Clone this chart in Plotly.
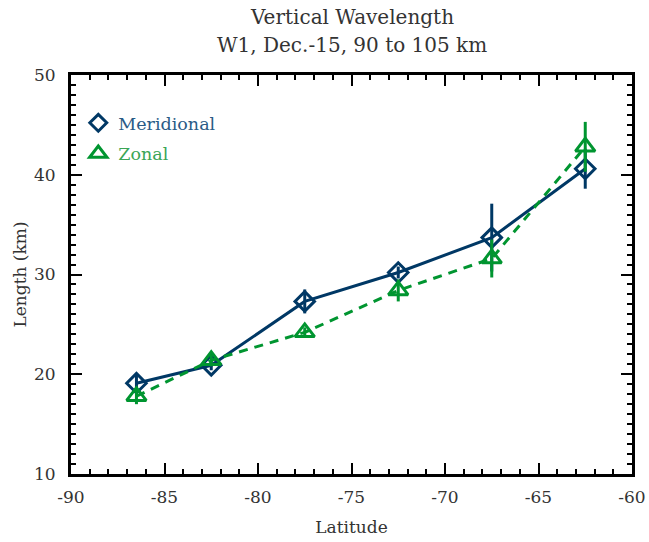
import plotly.graph_objects as go

lat = [-86.5, -82.5, -77.5, -72.5, -67.5, -62.5]
merid = [19.1, 20.9, 27.3, 30.2, 33.7, 40.6]
merid_err = [0.9, 0.5, 1.2, 0.6, 3.4, 2.0]
zonal = [17.8, 21.4, 24.2, 28.4, 31.6, 42.8]
zonal_err = [0.8, 0.6, 0.5, 1.1, 1.9, 2.5]

x_ticks = [-90, -85, -80, -75, -70, -65, -60]
x_ticktext = ["-90", "-85", "-80", "-75", "-70", "-65", "-60"]
y_ticks = [10, 20, 30, 40, 50]
y_ticktext = ["10", "20", "30", "40", "50"]

title_lines = ["Vertical Wavelength", "W1, Dec.-15, 90 to 105 km"]

NAVY = "#003865"
GREEN = "#009530"
FONT = "DejaVu Serif"
TXT = "#333333"

fig = go.Figure()
fig.add_trace(go.Scatter(
    x=lat, y=merid, mode="lines+markers", showlegend=False,
    line=dict(color=NAVY, width=3),
    marker=dict(symbol="diamond-open", size=15, color=NAVY, line=dict(width=3, color=NAVY)),
    error_y=dict(type="data", array=merid_err, color=NAVY, thickness=3, width=0),
))
fig.add_trace(go.Scatter(
    x=lat, y=zonal, mode="lines+markers", showlegend=False,
    line=dict(color=GREEN, width=3, dash="9px,7px"),
    marker=dict(symbol="triangle-up-open", size=17, color=GREEN, line=dict(width=3, color=GREEN)),
    error_y=dict(type="data", array=zonal_err, color=GREEN, thickness=3, width=0),
))
fig.add_trace(go.Scatter(
    x=[None], y=[None], mode="markers", legendgroup="m",
    name="<span style='color:#2a5b86'>Meridional</span>",
    marker=dict(symbol="diamond-open", size=13, color=NAVY, line=dict(width=3, color=NAVY)),
))
fig.add_trace(go.Scatter(
    x=[None], y=[None], mode="markers", legendgroup="z",
    name="<span style='color:#3aa556'>Zonal</span>",
    marker=dict(symbol="triangle-up-open", size=15, color=GREEN, line=dict(width=3, color=GREEN)),
))

axis_common = dict(
    showgrid=False, zeroline=False, showline=True, linecolor="black", linewidth=3,
    mirror="allticks", ticks="inside", ticklen=11, tickwidth=2, tickcolor="black",
    tickfont=dict(family=FONT, size=17, color=TXT), automargin=False,
    minor=dict(ticks="inside", ticklen=5, tickwidth=2, tickcolor="black", dtick=1),
)

fig.update_xaxes(range=[-90, -60], tickvals=x_ticks, ticktext=x_ticktext,
                 ticklabelstandoff=6,
                 title=dict(text="Latitude", font=dict(family=FONT, size=17, color=TXT), standoff=15),
                 **axis_common)
fig.update_yaxes(range=[10, 50], tickvals=y_ticks, ticktext=y_ticktext,
                 ticklabelstandoff=9,
                 title=dict(text="Length (km)", font=dict(family=FONT, size=17, color=TXT), standoff=4),
                 **axis_common)

for txt, yy in zip(title_lines, [1.1454, 1.0752]):
    fig.add_annotation(
        text=txt, xref="paper", yref="paper", x=0.5, y=yy,
        xanchor="center", yanchor="middle", showarrow=False,
        font=dict(family=FONT, size=20, color=TXT),
    )

fig.update_layout(
    width=649, height=542,
    margin=dict(l=71, r=17, t=75, b=68),
    paper_bgcolor="white", plot_bgcolor="white",
    legend=dict(x=0.013, y=0.925, xanchor="left", yanchor="top",
                bgcolor="rgba(0,0,0,0)", itemwidth=30, traceorder="grouped",
                font=dict(family=FONT, size=17.5), tracegroupgap=5),
    font=dict(family=FONT),
)

fig.write_html("out.html")
